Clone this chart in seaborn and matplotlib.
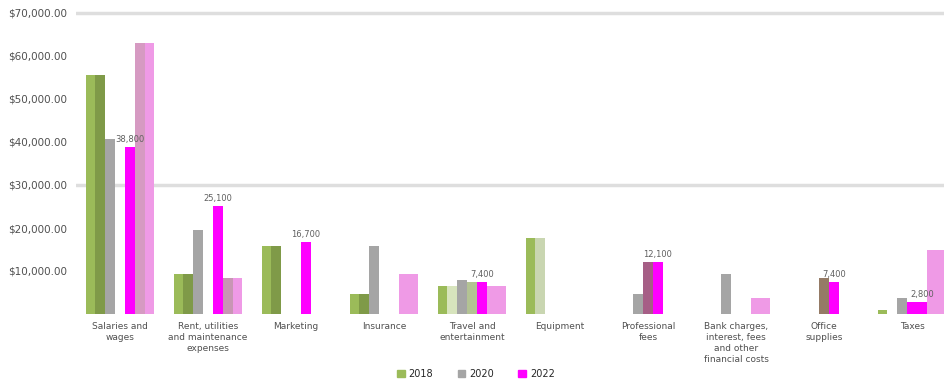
import pandas as pd
import matplotlib
matplotlib.use("Agg")
import matplotlib.pyplot as plt
import seaborn as sns

categories = ["Salaries and\nwages", "Rent, utilities\nand maintenance\nexpenses", "Marketing",
              "Insurance", "Travel and\nentertainment", "Equipment", "Professional\nfees",
              "Bank charges,\ninterest, fees\nand other\nfinancial costs", "Office\nsupplies", "Taxes"]
series = ["2018", "2019", "2020", "2021", "2022", "2023", "2024"]

v2018 = [55600, 9300, 15800, 4650, 6500, 17700, 0, 0, 0, 930]
v2019 = [55600, 9300, 15800, 4650, 6500, 17700, 0, 0, 0, 0]
v2020 = [40700, 19500, 0, 15800, 7900, 0, 4650, 9300, 0, 3700]
v2021 = [0, 0, 0, 0, 7400, 0, 12100, 0, 8400, 2800]
v2022 = [38800, 25100, 16700, 0, 7400, 0, 12100, 0, 7400, 2800]
v2023 = [63000, 8400, 0, 9300, 6500, 0, 0, 3700, 0, 14900]
v2024 = [63000, 8400, 0, 9300, 6500, 0, 0, 3700, 0, 14900]

yticks = [10000, 20000, 30000, 40000, 50000, 60000, 70000]

df = pd.DataFrame({
    "category": categories * len(series),
    "series": [s for s in series for _ in categories],
    "value": v2018 + v2019 + v2020 + v2021 + v2022 + v2023 + v2024,
})

palette = ["#9BBB59", "#7F9A48", "#A5A5A5", "#A65E86", "#FF00FF", "#D69AC2", "#EF9AE6"]
# a few bars are drawn in a different tint in the original
overrides = {(1, 4): "#D7E4BD", (3, 4): "#B3C393", (5, 4): "#EF9AE6",
             (1, 5): "#C9D6B1", (5, 3): "#EF9AE6", (5, 7): "#EF9AE6",
             (5, 1): "#C896B4", (3, 8): "#957B66", (3, 9): "#FF00FF", (5, 9): "#EF9AE6"}

sns.set_style("white")
plt.rcParams["font.family"] = ["DejaVu Sans"]

fig = plt.figure(figsize=(9.44, 3.83), dpi=100)
ax = fig.add_axes([76 / 944, 69 / 383, 880 / 944, 309.6 / 383])

sns.barplot(data=df, x="category", y="value", hue="series", palette=palette,
            width=0.78, gap=0, saturation=1, linewidth=0, ax=ax, legend=False, zorder=3)

for (i, j), c in overrides.items():
    ax.containers[i][j].set_facecolor(c)

ax.set_ylim(0, 72000)
ax.set_xlim(-0.5, len(categories) - 0.5)
for g in [30000, 70000]:
    ax.axhline(g, color="#DEDEDE", lw=2.5, zorder=1)

ax.set_yticks(yticks)
ax.set_yticklabels([f"${v:,.2f}" for v in yticks], fontsize=7.5, color="#505050")
for lab in ax.get_yticklabels():
    lab.set_horizontalalignment("left")
ax.tick_params(axis="y", length=0, pad=49)
ax.tick_params(axis="x", length=0, pad=6)
ax.set_xticks(range(len(categories)))
ax.set_xticklabels(categories, fontsize=6.5, color="#505050", va="top", linespacing=1.25)
ax.set_xlabel("")
ax.set_ylabel("")
sns.despine(ax=ax, left=True, bottom=True)

ax.bar_label(ax.containers[4], labels=[f"{v:,}" if v else "" for v in v2022],
             fontsize=6, color="#606060", padding=2)

handles = [plt.Rectangle((0, 0), 1, 1, color=c) for c in ["#9BBB59", "#A5A5A5", "#FF00FF"]]
fig.legend(handles, ["2018", "2020", "2022"], loc="lower center", ncol=3,
           bbox_to_anchor=(476 / 944, -0.012), frameon=False, fontsize=7,
           handlelength=0.8, handleheight=0.8, columnspacing=2.5, handletextpad=0.4)

fig.savefig("out.png", dpi=100)
